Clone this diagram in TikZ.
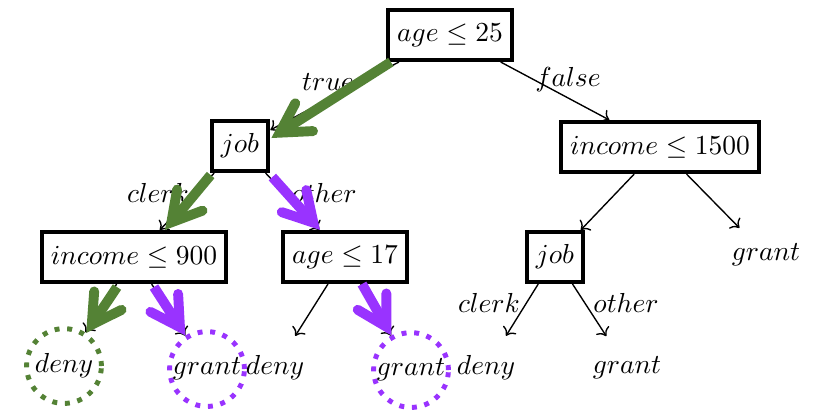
\documentclass[tikz,border=0pt]{standalone}
\usetikzlibrary{arrows.meta,calc}
\definecolor{tgreen}{RGB}{84,130,53}
\definecolor{tpurple}{RGB}{153,51,255}
\begin{document}
\begin{tikzpicture}[x=0.3636pt,y=-0.3636pt,
  box/.style={draw, line width=1.45pt, minimum height=18.2pt, inner xsep=3.4pt},
  leaf/.style={circle, minimum size=27.2pt, inner sep=0pt},
  dotleaf/.style={leaf, draw=#1, line width=1.8pt, dash pattern=on 1.8pt off 2.8pt},
  thinarrow/.style={->, line width=0.5pt},
  hl/.style={draw=#1, line width=3.6pt, line cap=butt, -{Straight Barb[length=10.5pt,width=12pt,line cap=round]}},
  lab/.style={anchor=base, inner sep=0pt}
]
\useasboundingbox (0,0) rectangle (818,413);
% inner nodes
\node[box] (root) at (450,35) {$age \leq 25$};
\node[box] (job1) at (240,146) {$job$};
\node[box] (inc15) at (660,147) {$income \leq 1500$};
\node[box] (inc9) at (134,257) {$income \leq 900$};
\node[box] (age17) at (345,257) {$age \leq 17$};
\node[box] (job2) at (555,257) {$job$};
% leaves
\node[dotleaf=tgreen] (l1) at (64,366) {$deny$};
\node[dotleaf=tpurple] (l2) at (207,369) {$grant$};
\node[leaf] (l3) at (275,368) {$deny$};
\node[dotleaf=tpurple] (l4) at (411,370) {$grant$};
\node[leaf] (l5) at (486,368) {$deny$};
\node[leaf] (l6) at (627,368) {$grant$};
\node[leaf] (l7) at (766,255) {$grant$};
% edge labels
\node[lab] (ltrue) at (328,90) {$true$};
\node[lab] (lfalse) at (568,86) {$false$};
\node[lab] (lclerk1) at (158,202) {$clerk$};
\node[lab] (lother1) at (324,202) {$other$};
\node[lab] (lclerk2) at (489,312) {$clerk$};
\node[lab] (lother2) at (626,312) {$other$};
% thin edges
\draw[thinarrow] (root) -- (job1);
\draw[thinarrow] (root) -- (inc15);
\draw[thinarrow] (job1) -- (inc9);
\draw[thinarrow] (job1) -- (age17);
\draw[thinarrow] (inc9) -- (l1);
\draw[thinarrow] (inc9) -- (l2);
\draw[thinarrow] (age17) -- (l3);
\draw[thinarrow] (age17) -- (l4);
\draw[thinarrow] (inc15) -- (job2);
\draw[thinarrow] (inc15) -- (l7);
\draw[thinarrow] (job2) -- (l5);
\draw[thinarrow] (job2) -- (l6);
% highlighted paths
\draw[hl=tgreen] ($(root.south west)+(5,0)$) -- ($(job1.east)+(1,-8)$);
\draw[hl=tgreen] ($(job1.south west)+(1,2)$) -- ($(inc9.north)+(31,0)$);
\draw[hl=tpurple] ($(job1.south east)+(2,4)$) -- ($(age17.north)+(-25,0)$);
\draw[hl=tgreen] ($(inc9.south)+(-17,3)$) -- (l1);
\draw[hl=tpurple] ($(inc9.south)+(20,3)$) -- (l2);
\draw[hl=tpurple] ($(age17.south)+(17,0)$) -- (l4);
\end{tikzpicture}
\end{document}
